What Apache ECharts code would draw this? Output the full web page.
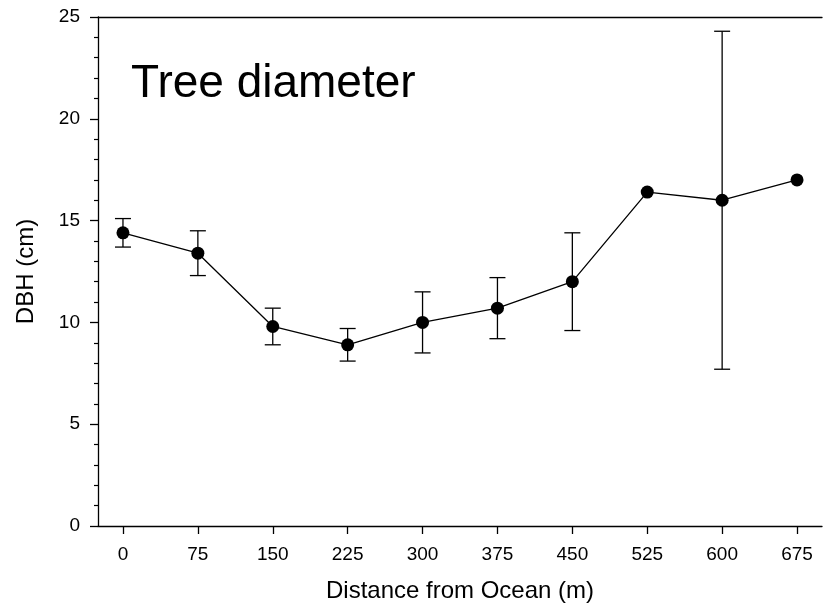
<!DOCTYPE html>
<html>
<head>
<meta charset="utf-8">
<script src="https://cdn.jsdelivr.net/npm/echarts@6/dist/echarts.min.js"></script>
<style>
  html, body { margin: 0; padding: 0; background: #fff; }
  #main { width: 823px; height: 613px; }
</style>
</head>
<body>
<div id="main"></div>
<script>
// distance from ocean (m)
var distances = [0, 75, 150, 225, 300, 375, 450, 525, 600, 675];
// mean DBH (cm)
var dbh = [14.4, 13.4, 9.8, 8.9, 10.0, 10.7, 12.0, 16.4, 16.0, 17.0];
// error bar ends (null = no bar)
var errLow = [13.7, 12.3, 8.9, 8.1, 8.5, 9.2, 9.6, null, 7.7, null];
var errHigh = [15.1, 14.5, 10.7, 9.7, 11.5, 12.2, 14.4, null, 24.3, null];
var xTicks = [0, 75, 150, 225, 300, 375, 450, 525, 600, 675];

var font = 'Liberation Sans, Arial, sans-serif';

var lineData = distances.map(function (d, i) { return [d, dbh[i]]; });
var errData = [];
distances.forEach(function (d, i) {
    if (errLow[i] != null) errData.push([d, errLow[i], errHigh[i]]);
});

var chart = echarts.init(document.getElementById('main'));
chart.setOption({
    animation: false,
    backgroundColor: '#fff',
    title: {
        text: 'Tree diameter',
        left: 126,
        top: 56,
        textStyle: { fontFamily: font, fontSize: 46, fontWeight: 'normal', color: '#000' }
    },
    grid: { left: 98, right: 1, top: 17, bottom: 87 },
    xAxis: [{
        type: 'value',
        min: -25,
        max: 700,
        splitLine: { show: false },
        axisLine: { onZero: false, lineStyle: { color: '#000', width: 1.3 } },
        axisTick: { customValues: xTicks, length: 8, lineStyle: { color: '#000', width: 1.3 } },
        axisLabel: { customValues: xTicks, margin: 19, color: '#000', fontFamily: font, fontSize: 19 },
        name: 'Distance from Ocean (m)',
        nameLocation: 'middle',
        nameGap: 53,
        nameTextStyle: { color: '#000', fontFamily: font, fontSize: 24 }
    }, {
        type: 'value',
        position: 'top',
        min: -25,
        max: 700,
        splitLine: { show: false },
        axisLine: { onZero: false, lineStyle: { color: '#000', width: 1.3 } },
        axisTick: { show: false },
        axisLabel: { show: false }
    }],
    yAxis: {
        type: 'value',
        min: 0,
        max: 25,
        interval: 5,
        splitLine: { show: false },
        axisLine: { show: true, onZero: false, lineStyle: { color: '#000', width: 1.3 } },
        axisTick: { show: true, length: 8, lineStyle: { color: '#000', width: 1.3 } },
        minorTick: { show: true, splitNumber: 5, length: 4, lineStyle: { color: '#000', width: 1.2 } },
        axisLabel: { margin: 18, color: '#000', fontFamily: font, fontSize: 19 },
        name: 'DBH (cm)',
        nameLocation: 'middle',
        nameGap: 60,
        nameTextStyle: { color: '#000', fontFamily: font, fontSize: 24 }
    },
    series: [{
        type: 'custom',
        data: errData,
        z: 2,
        renderItem: function (params, api) {
            var x = api.value(0);
            var lo = api.coord([x, api.value(1)]);
            var hi = api.coord([x, api.value(2)]);
            var w = 8;
            var style = { stroke: '#000', lineWidth: 1.3 };
            return {
                type: 'group',
                children: [
                    { type: 'line', shape: { x1: lo[0], y1: lo[1], x2: hi[0], y2: hi[1] }, style: style },
                    { type: 'line', shape: { x1: lo[0] - w, y1: lo[1], x2: lo[0] + w, y2: lo[1] }, style: style },
                    { type: 'line', shape: { x1: hi[0] - w, y1: hi[1], x2: hi[0] + w, y2: hi[1] }, style: style }
                ]
            };
        }
    }, {
        type: 'line',
        data: lineData,
        z: 3,
        symbol: 'circle',
        symbolSize: 13,
        itemStyle: { color: '#000' },
        lineStyle: { color: '#000', width: 1.3 }
    }]
});
</script>
</body>
</html>
